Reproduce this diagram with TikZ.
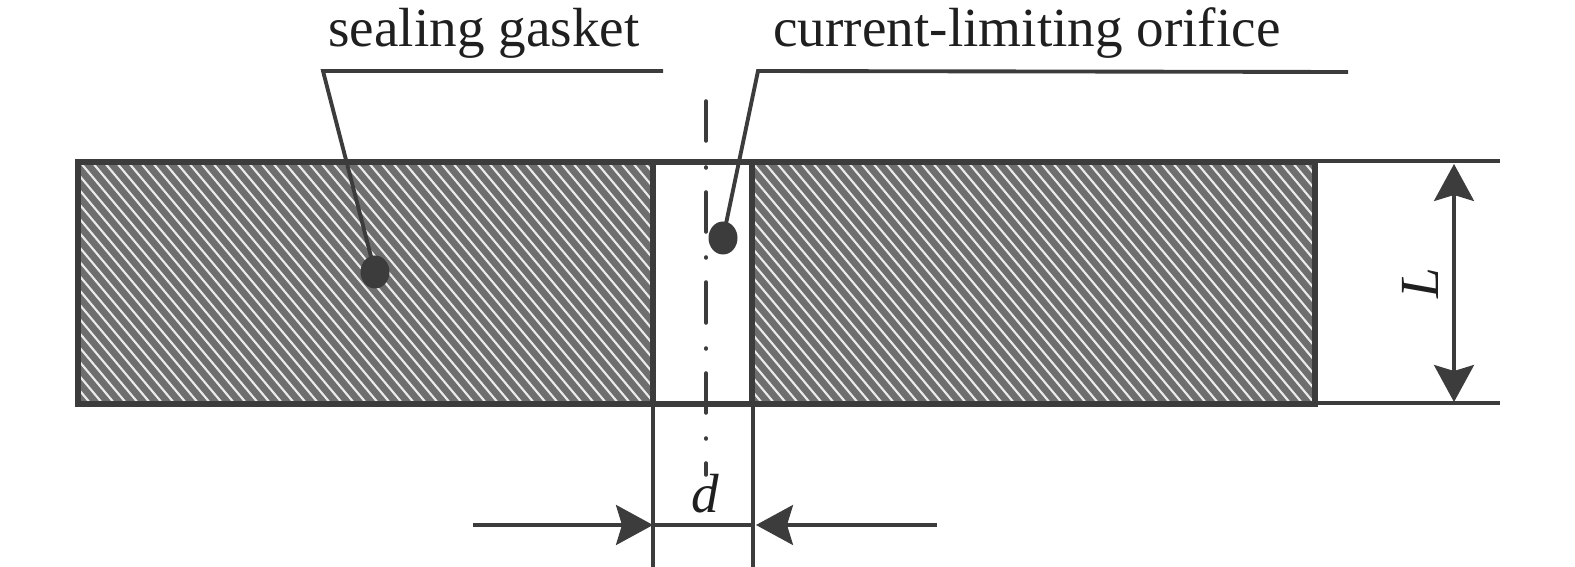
\documentclass[tikz,border=0pt]{standalone}
\usepackage{fontspec}
\setmainfont{Liberation Serif}
\usetikzlibrary{positioning,arrows.meta,shapes.geometric}
\definecolor{inkdark}{HTML}{3C3C3C}
\definecolor{hatchgray}{HTML}{6E6E6E}
\newcommand{\unitpx}{*0.02cm}
\tikzset{
  dim tip/.tip={Stealth[length=37\unitpx,width=40\unitpx,inset=6\unitpx]},
  thin line/.style={draw=inkdark, line width=1.9pt},
  leader line/.style={draw=inkdark, line width=2.2pt},
  wall line/.style={draw=inkdark, line width=3.2pt},
  center line/.style={draw=inkdark, line width=2pt, line cap=round},
  leader dot/.style={ellipse, fill=inkdark, inner sep=0pt, minimum width=29\unitpx, minimum height=33\unitpx},
  call text/.style={font=\fontsize{31.4}{32}\selectfont, text=black!88, inner sep=0pt, anchor=base},
  dim text/.style={font=\fontsize{31.4}{32}\selectfont\itshape, text=black!88, inner sep=0pt}}
\begin{document}
\begin{tikzpicture}[x=0.02cm,y=-0.02cm]
        \useasboundingbox (0,0) rectangle (1575,567);

        % gasket, left and right of the orifice
        \fill[hatchgray] (78,162) rectangle (653,404);
        \fill[hatchgray] (752,162) rectangle (1315,404);
        \begin{scope}
          \clip (78,162) rectangle (653,404) (752,162) rectangle (1315,404);
          \foreach \x in {-220,-208,...,1320} {
            \draw[white!92!black, line width=1.2pt] (\x,162) -- ++(203,242);
          }
        \end{scope}
        \draw[wall line] (78,162) rectangle (653,404);
        \draw[wall line] (752,162) rectangle (1315,404);
        \draw[wall line] (653,162) -- (752,162);
        \draw[wall line] (653,404) -- (752,404);

        % center line
        \foreach \a/\b in {101/141,167/168,192/232,257/258,282/323,348/349,373/413,438/439,463/475} {
          \draw[center line] (706,\a) -- (706,\b);
        }

        % leaders
        \node[leader dot] (dotgasket) at (375,272) {};
        \node[leader dot] (dotorifice) at (723,238) {};
        \coordinate (kneegasket) at (323,71);
        \coordinate (endgasket) at (663,71);
        \coordinate (kneeorifice) at (758,71);
        \coordinate (endorifice) at (1348,72);
        \draw[leader line] (dotgasket.center) -- (kneegasket) -- (endgasket);
        \draw[leader line] (dotorifice.center) -- (kneeorifice) -- (endorifice);
        \node[call text] (labgasket) at (484,47) {sealing gasket};
        \node[call text] (laborifice) at (1027,47) {current-limiting orifice};

        % dimension L
        \coordinate (topa) at (1315,161);
        \coordinate (topb) at (1500,161);
        \coordinate (bota) at (1315,403);
        \coordinate (botb) at (1500,403);
        \coordinate (arrowtop) at (1454,164);
        \coordinate (arrowbot) at (1454,402);
        \draw[thin line] (topa) -- (topb);
        \draw[thin line] (bota) -- (botb);
        \draw[thin line, {dim tip}-{dim tip}] (arrowtop) -- (arrowbot);
        \node[dim text, rotate=90] (labL) at (1420,283) {L};

        % dimension d
        \coordinate (lefta) at (653,404);
        \coordinate (leftb) at (653,567);
        \coordinate (righta) at (753,404);
        \coordinate (rightb) at (753,567);
        \coordinate (arrowl) at (653,525);
        \coordinate (arrowm) at (753,525);
        \coordinate (arrowr) at (756,525);
        \coordinate (tailleft) at (473,525);
        \coordinate (tailright) at (937,525);
        \draw[thin line] (lefta) -- (leftb);
        \draw[thin line] (righta) -- (rightb);
        \draw[thin line, -{dim tip}] (tailleft) -- (arrowl);
        \draw[thin line, -{dim tip}] (tailright) -- (arrowr);
        \draw[thin line] (arrowl) -- (arrowm);
        \node[dim text, anchor=base] (labd) at (705,512) {d};
\end{tikzpicture}
\end{document}
